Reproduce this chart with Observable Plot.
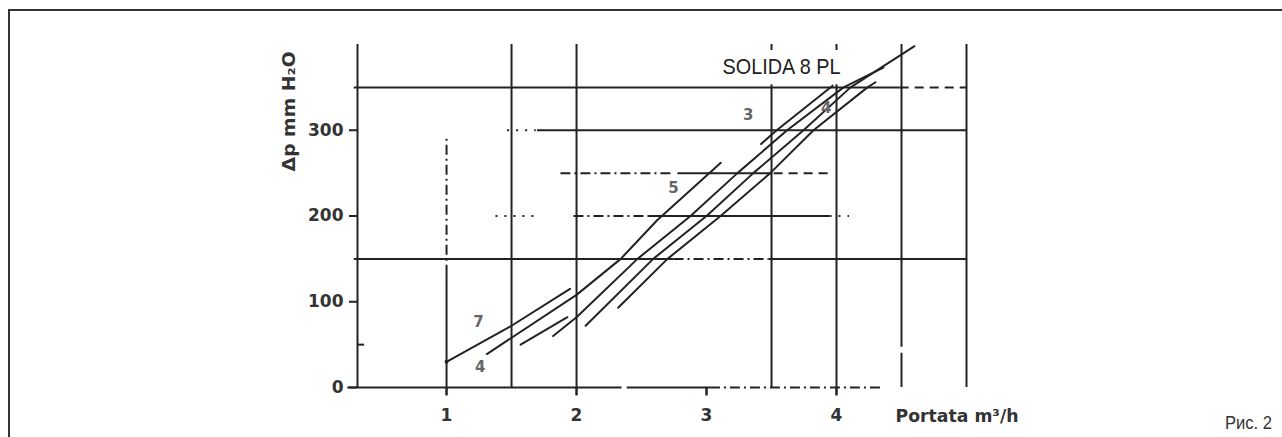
<!DOCTYPE html>
<html>
<head>
<meta charset="utf-8">
<script src="https://cdn.jsdelivr.net/npm/d3@7"></script>
<script src="https://cdn.jsdelivr.net/npm/@observablehq/plot@0.6"></script>
<style>
html,body{margin:0;padding:0;background:#fff;}
#wrap{position:relative;width:1282px;height:437px;overflow:hidden;background:#fff;}
#frame{position:absolute;left:8px;top:9px;width:1300px;height:460px;border-top:2px solid #333;border-left:2px solid #333;}
#chart{position:absolute;left:0;top:0;}
</style>
</head>
<body>
<div id="wrap"><div id="frame"></div><div id="chart"></div></div>
<script>
// ---- axis ticks ----
const xTicks = [1, 2, 3, 4];
const yTicks = [0, 100, 200, 300];

// ---- curves (flow m3/h, pressure drop mm H2O) ----
const curveIds = ["c1", "c2", "c3", "c4", "c5", "c6", "c7"];
const c1X = [1.0, 1.5, 1.95];
const c1Y = [30, 72, 115];
const c2X = [1.31, 2.0, 2.34, 2.62, 3.11];
const c2Y = [39, 108, 150, 195, 262];
const c3X = [1.57, 1.93];
const c3Y = [50, 82];
const c4X = [1.82, 2.0, 2.469, 2.877, 3.238, 3.62, 4.054, 4.36];
const c4Y = [60, 82, 150, 200, 250, 300, 350, 373];
const c5X = [2.07, 2.59, 3.0, 3.36, 3.746, 4.108, 4.6];
const c5Y = [72, 150, 200, 250, 300, 350, 398];
const c6X = [2.32, 2.70, 3.108, 3.49, 3.823, 4.238, 4.3];
const c6Y = [93, 150, 200, 250, 300, 350, 356];
const c7X = [3.42, 3.54, 3.97];
const c7Y = [284, 300, 352];

// ---- horizontal grid segments ----
const hY    = [350, 350, 300, 300, 250, 250, 250, 200, 200, 200, 200, 150, 150, 150, 0, 0, 0];
const hFrom = [0.29, 4.49, 1.47, 1.70, 1.88, 2.78, 3.52, 1.38, 1.98, 2.55, 3.95, 0.29, 2.75, 3.48, 0.24, 2.39, 3.03];
const hTo   = [4.49, 5.0, 1.69, 5.0, 2.75, 3.5, 3.95, 1.72, 2.55, 3.95, 4.1, 2.75, 3.48, 5.0, 2.35, 3.03, 4.35];
const hKind = ["solid","dashed","dotted","solid","dashdot","solid","dashed","dotted","dashdot","solid","dotted","solid","dashdot","solid","solid","solid","dashdot"];

// ---- vertical grid segments ----
const vX    = [1, 1, 1.5, 2, 3, 3.5, 4, 4.5, 4.5, 5];
const vFrom = [-10, 131, 0, -10, -10, 0, -10, 0, 47, 0];
const vTo   = [131, 290, 400, 400, 0, 400, 400, 40, 400, 400];
const vKind = ["solid","dashdot","solid","solid","solid","solid","solid","solid","solid","solid"];

// ---- minor tick ----
const minorY = [50];

// ---- curve labels ----
const curveLabelText = ["7", "4", "5", "3", "4"];
const curveLabelX = [1.246, 1.26, 2.746, 3.32, 3.92];
const curveLabelY = [76, 24, 233, 318, 326];

// ---- annotation texts ----
const titleText = ["SOLIDA 8 PL"];
const titleX = [3.123];
const titleY = [374];
const boxX1 = [3.07], boxX2 = [4.38], boxY1 = [353], boxY2 = [393];
const yLabelText = ["Δp mm H₂O"];
const yLabelX = [-0.21];
const yLabelY = [322];
const xLabelText = ["Portata m³/h"];
const xLabelX = [4.454];
const xLabelY = [-34];
const figText = ["Рис. 2"];
const figX = [7.35];
const figY = [-41];

// build tables
const curveSets = {c1:[c1X,c1Y], c2:[c2X,c2Y], c3:[c3X,c3Y], c4:[c4X,c4Y], c5:[c5X,c5Y], c6:[c6X,c6Y], c7:[c7X,c7Y]};
const curves = curveIds.flatMap(id => curveSets[id][0].map((x, i) => ({id, x, y: curveSets[id][1][i]})));
const hSeg = hY.map((y, i) => ({y, x1: hFrom[i], x2: hTo[i], kind: hKind[i]}));
const vSeg = vX.map((x, i) => ({x, y1: vFrom[i], y2: vTo[i], kind: vKind[i]}));
const dash = {solid: null, dashed: "9,6", dotted: "2,7", dashdot: "10,4,2,4"};

const ink = "#222";
const hMarks = Object.keys(dash).map(k => Plot.ruleY(hSeg.filter(d => d.kind === k), {y: "y", x1: "x1", x2: "x2", stroke: ink, strokeWidth: 2, strokeDasharray: dash[k]}));
const vMarks = Object.keys(dash).map(k => Plot.ruleX(vSeg.filter(d => d.kind === k), {x: "x", y1: "y1", y2: "y2", stroke: ink, strokeWidth: 2, strokeDasharray: dash[k]}));

const chart = Plot.plot({
  width: 1282,
  height: 437,
  marginLeft: 357,
  marginRight: 316,
  marginTop: 44,
  marginBottom: 50,
  x: {domain: [0.315, 5]},
  y: {domain: [0, 400]},
  style: {background: "transparent", fontFamily: "DejaVu Sans, sans-serif", color: ink, overflow: "visible"},
  marks: [
    ...hMarks,
    ...vMarks,
    Plot.ruleX([0.315], {y1: 0, y2: 400, stroke: ink, strokeWidth: 2}),
    Plot.ruleY(minorY, {x1: 0.315, x2: 0.37, stroke: ink, strokeWidth: 2}),
    Plot.axisY({ticks: yTicks, tickFormat: d3.format("d"), tickSize: 8, tickPadding: 6, fontSize: 17, fontWeight: "bold", label: null, strokeWidth: 2, fill: "#333"}),
    Plot.axisX({ticks: xTicks, tickFormat: d3.format("d"), tickSize: 8, tickPadding: 13, fontSize: 17, fontWeight: "bold", label: null, strokeWidth: 2, fill: "#333"}),
    Plot.rectY(boxX1.map((x, i) => ({x1: x, x2: boxX2[i], y1: boxY1[i], y2: boxY2[i]})), {x1: "x1", x2: "x2", y1: "y1", y2: "y2", fill: "#fff"}),
    Plot.line(curves, {x: "x", y: "y", z: "id", stroke: ink, strokeWidth: 2, curve: "linear"}),
    Plot.dot([{x: c1X[0], y: c1Y[0]}], {x: "x", y: "y", r: 2, fill: ink}),
    Plot.text(curveLabelText, {x: (d, i) => curveLabelX[i], y: (d, i) => curveLabelY[i], text: d => d, fontSize: 15, fill: "#666", fontWeight: "bold"}),
    Plot.text(titleText, {x: (d, i) => titleX[i], y: (d, i) => titleY[i], text: d => d, textAnchor: "start", fontSize: 22, fill: "#222", fontFamily: "Liberation Sans Narrow, Liberation Sans, Arial, sans-serif"}),
    Plot.text(yLabelText, {x: (d, i) => yLabelX[i], y: (d, i) => yLabelY[i], text: d => d, rotate: -90, fontSize: 17, fontWeight: "bold", fill: "#333"}),
    Plot.text(xLabelText, {x: (d, i) => xLabelX[i], y: (d, i) => xLabelY[i], text: d => d, textAnchor: "start", fontSize: 17, fontWeight: "bold", fill: "#333"}),
    Plot.text(figText, {x: (d, i) => figX[i], y: (d, i) => figY[i], text: d => d, textAnchor: "end", fontSize: 19, fill: "#333", fontFamily: "Liberation Sans Narrow, Liberation Sans, Arial, sans-serif"})
  ]
});
document.getElementById("chart").appendChild(chart);

// condense the narrow-font labels to the reference widths
d3.select(chart).selectAll("text").each(function () {
  const t = this.textContent;
  if (t === "SOLIDA 8 PL") { this.setAttribute("textLength", 118); this.setAttribute("lengthAdjust", "spacingAndGlyphs"); }
  if (t === "Рис. 2") { this.setAttribute("textLength", 47); this.setAttribute("lengthAdjust", "spacingAndGlyphs"); }
  if (t === "Δp mm H₂O") { this.setAttribute("textLength", 120); this.setAttribute("lengthAdjust", "spacingAndGlyphs"); }
  if (t === "Portata m³/h") { this.setAttribute("textLength", 123); this.setAttribute("lengthAdjust", "spacingAndGlyphs"); }
});
</script>
</body>
</html>
